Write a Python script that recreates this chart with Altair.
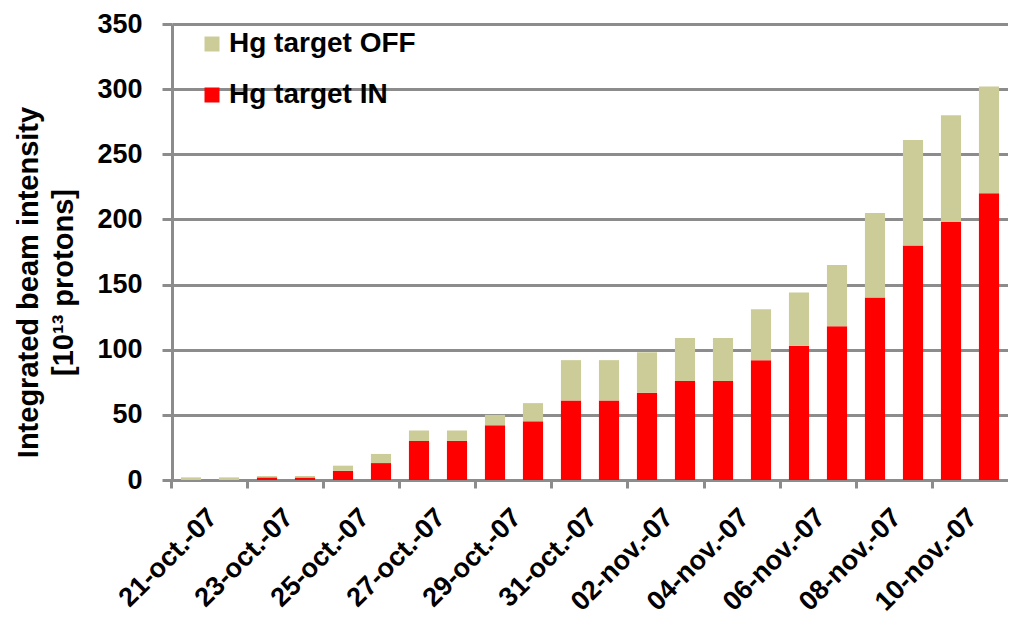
import altair as alt
import pandas as pd

dates = ["21-oct.-07", "22-oct.-07", "23-oct.-07", "24-oct.-07", "25-oct.-07", "26-oct.-07",
         "27-oct.-07", "28-oct.-07", "29-oct.-07", "30-oct.-07", "31-oct.-07", "01-nov.-07",
         "02-nov.-07", "03-nov.-07", "04-nov.-07", "05-nov.-07", "06-nov.-07", "07-nov.-07",
         "08-nov.-07", "09-nov.-07", "10-nov.-07", "11-nov.-07"]
target_in = [0, 0, 2, 2, 7, 13, 30, 30, 42, 45, 61, 61, 67, 76, 76, 92, 103, 118, 140, 180, 198, 220]
target_off = [2, 2, 1, 1, 4, 7, 8, 8, 8, 14, 31, 31, 31, 33, 33, 39, 41, 47, 65, 81, 82, 82]
series = ["Hg target OFF", "Hg target IN"]
colors = ["#CCCC99", "#FF0000"]
label_dates = dates[::2][:11]

rows = []
for d, vin, voff in zip(dates, target_in, target_off):
    rows.append({"date": d, "series": "Hg target IN", "value": vin, "order": 0})
    rows.append({"date": d, "series": "Hg target OFF", "value": voff, "order": 1})
df = pd.DataFrame(rows)

FONT = "Liberation Sans"
GRID = "#8c8c8c"
PI = 0.47

chart = alt.Chart(df).mark_bar().encode(
    x=alt.X("date:N", sort=dates,
            scale=alt.Scale(paddingInner=PI, paddingOuter=PI / 2),
            axis=alt.Axis(title=None, values=label_dates, labelAngle=-45,
                          bandPosition=-(PI / 2) / (1 - PI),
                          labelOffset=22, labelAlign="right", labelBaseline="middle",
                          labelPadding=25, labelFontSize=27, labelFont=FONT,
                          labelFontWeight="bold", labelColor="#000000",
                          tickColor=GRID, tickWidth=3, tickSize=8,
                          domainColor=GRID, domainWidth=3, grid=False)),
    y=alt.Y("value:Q", stack="zero",
            scale=alt.Scale(domain=[0, 350], nice=False),
            axis=alt.Axis(values=[0, 50, 100, 150, 200, 250, 300, 350],
                          title=["Integrated beam intensity", "[10\u00b9\u00b3 protons]"],
                          titleFont=FONT, titleFontSize=29, titleFontWeight="bold",
                          titleColor="#000000", titleX=-158, titleY=258,
                          titleBaseline="top", titleLineHeight=35, titleAngle=-90,
                          labelFont=FONT, labelFontSize=27, labelFontWeight="bold",
                          labelColor="#000000", labelPadding=20,
                          tickColor=GRID, tickWidth=3, tickSize=10,
                          domainColor=GRID, domainWidth=3,
                          grid=True, gridColor=GRID, gridWidth=3)),
    color=alt.Color("series:N", scale=alt.Scale(domain=series, range=colors),
                    legend=alt.Legend(title=None, orient="none", legendX=26, legendY=6,
                                      symbolType="square", symbolSize=225,
                                      symbolStrokeWidth=0, symbolOpacity=1,
                                      labelFont=FONT, labelFontSize=28, labelLimit=0,
                                      labelFontWeight="bold", labelColor="#000000",
                                      labelOffset=3, rowPadding=23, padding=0)),
    order=alt.Order("order:Q", sort="ascending"),
).properties(
    width=836, height=456,
    autosize=alt.AutoSizeParams(type="none"),
    padding={"left": 164, "top": 16, "right": 0, "bottom": 147},
).configure_view(stroke=None).configure(background="white")

chart.save("out.html", embed_options={"renderer": "svg", "actions": False})
